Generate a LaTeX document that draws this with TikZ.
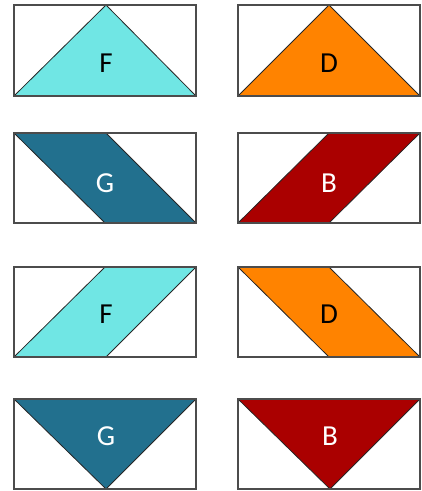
\documentclass[tikz,border=0pt]{standalone}
\usepackage{fontspec}
\setmainfont{Carlito}
\definecolor{fcyan}{RGB}{112,230,228}
\definecolor{gteal}{RGB}{34,112,142}
\definecolor{dorange}{RGB}{255,131,0}
\definecolor{bred}{RGB}{170,0,0}
\tikzset{
  patch/.style={draw=black!85, line width=0.8pt, line join=round},
  frame/.style={draw=black!70, line width=1.4pt},
  lbl/.style={font=\fontsize{29}{29}\selectfont, inner sep=0pt},
}
\begin{document}
\begin{tikzpicture}[x=1pt,y=-1pt]
\useasboundingbox (0,0) rectangle (422,491);
% ---- row 1
\fill[patch, fill=fcyan] (14,96) -- (106,5) -- (196,96) -- cycle;
\fill[patch, fill=dorange] (238,96) -- (329,5) -- (420,96) -- cycle;
\draw[frame] (14,5) rectangle (196,96);
\draw[frame] (238,5) rectangle (420,96);
\node[lbl] (f1) at (106,63) {F};
\node[lbl] (d1) at (329,63) {D};
% ---- row 2
\fill[patch, fill=gteal] (14,133) -- (106,133) -- (196,223) -- (105,223) -- cycle;
\fill[patch, fill=bred] (238,223) -- (329,133) -- (420,133) -- (329,223) -- cycle;
\draw[frame] (14,133) rectangle (196,223);
\draw[frame] (238,133) rectangle (420,223);
\node[lbl, text=white] (g2) at (105,183) {G};
\node[lbl, text=white] (b2) at (329,183) {B};
% ---- row 3
\fill[patch, fill=fcyan] (14,357) -- (105,267) -- (196,267) -- (106,357) -- cycle;
\fill[patch, fill=dorange] (238,267) -- (329,267) -- (420,357) -- (329,357) -- cycle;
\draw[frame] (14,267) rectangle (196,357);
\draw[frame] (238,267) rectangle (420,357);
\node[lbl] (f3) at (106,314) {F};
\node[lbl] (d3) at (329,314) {D};
% ---- row 4
\fill[patch, fill=gteal] (14,399) -- (196,399) -- (106,489) -- cycle;
\fill[patch, fill=bred] (238,399) -- (420,399) -- (330,489) -- cycle;
\draw[frame] (14,399) rectangle (196,489);
\draw[frame] (238,399) rectangle (420,489);
\node[lbl, text=white] (g4) at (106,436) {G};
\node[lbl, text=white] (b4) at (330,436) {B};
\end{tikzpicture}
\end{document}
